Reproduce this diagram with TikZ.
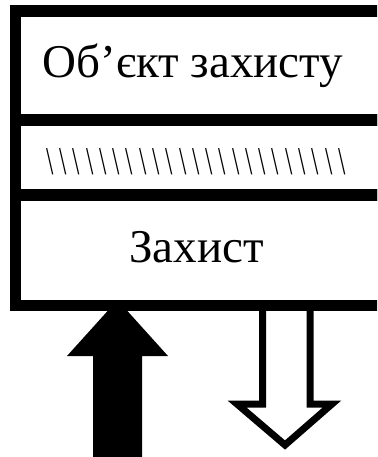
\documentclass[tikz,border=0pt]{standalone}
\usepackage{fontspec}
\setmainfont{Liberation Serif}
% one narrow hatch stroke in a fixed-width cell
\newcommand\hatchmark{\makebox[13.27pt]{\scalebox{0.55}[0.82]{\textbackslash}}}
\newcommand\hatchfive{\hatchmark\hatchmark\hatchmark\hatchmark\hatchmark}
\begin{document}
\begin{tikzpicture}[x=1pt,y=-1pt,
  layer/.style={draw=black, line width=11.5pt, minimum width=368pt, inner sep=0pt, outer sep=0pt},
  caption/.style={font=\fontsize{47}{50}\selectfont, anchor=base, inner sep=0pt},
  hatchrow/.style={font=\fontsize{48}{50}\selectfont, inner sep=0pt},
  inflow/.style={fill=black},
  outflow/.style={draw=black, line width=7pt, miter limit=10, fill=white}]
\useasboundingbox (0,0) rectangle (377,457);
\clip (0,0) rectangle (377,457);

% incoming (filled) and outgoing (hollow) block arrows, under the bottom edge
\fill[inflow] (93,460) -- (93,356) -- (67,356) -- (117.5,300) -- (168,356) -- (142,356) -- (142,460) -- cycle;
\draw[outflow] (262.5,305) -- (262.5,404) -- (237,404) -- (285,445) -- (332,404) -- (310,404) -- (310,305);

% three stacked layers
\node[layer, minimum height=109pt, anchor=north west] (object) at (15.5,11) {};
\node[layer, minimum height=75pt, anchor=north west] (shield) at (15.5,120) {};
\node[layer, minimum height=110.5pt, anchor=north west] (defence) at (15.5,195) {};

% layer texts
\node[caption] (objtext) at (193,78) {Об’єкт захисту};
\node[hatchrow] (hatch) at (196,161.5) {\hatchfive\hatchfive\hatchfive\hatchfive\hatchmark\hatchmark\hatchmark};
\node[caption] (deftext) at (196.5,262) {Захист};
\end{tikzpicture}
\end{document}
